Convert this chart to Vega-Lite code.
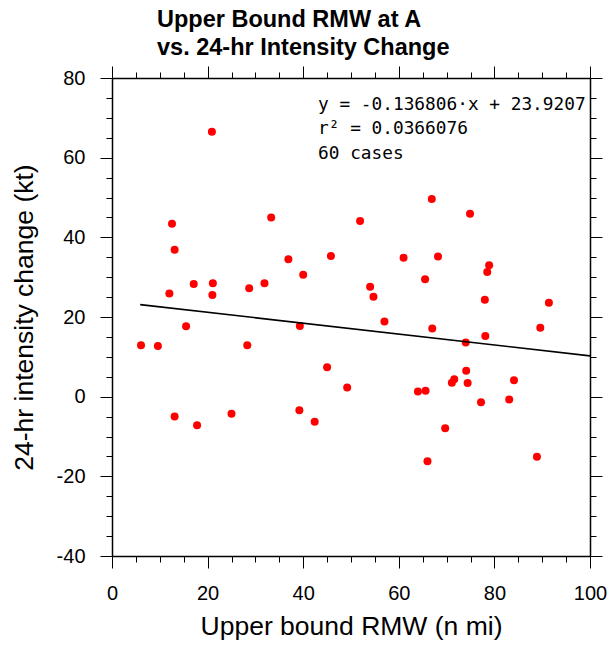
{
  "$schema": "https://vega.github.io/schema/vega-lite/v6.json",
  "width": 478,
  "height": 478,
  "autosize": "none",
  "padding": {"left": 112, "top": 78, "right": 19, "bottom": 89},
  "background": "white",
  "config": {
    "view": {"stroke": null},
    "font": "Liberation Sans",
    "axis": {
      "grid": false,
      "domainColor": "black",
      "domainWidth": 1.5,
      "tickColor": "black",
      "tickWidth": 1,
      "labelColor": "black",
      "titleColor": "black",
      "labelFont": "Liberation Sans",
      "titleFont": "Liberation Sans",
      "titleFontWeight": "normal",
      "labelFontSize": 20,
      "titleFontSize": 26.5
    }
  },
  "title": {
    "text": ["Upper Bound RMW at A", "vs. 24-hr Intensity Change"],
    "anchor": "start",
    "frame": "group",
    "dx": 45,
    "offset": 6,
    "font": "Liberation Sans",
    "fontSize": 23.5,
    "fontWeight": "bold",
    "lineHeight": 28,
    "color": "black"
  },
  "datasets": {
    "cases": [
      {"rmw": 20.9, "dv": 66.5}, {"rmw": 12.55, "dv": 43.4}, {"rmw": 13.1, "dv": 36.9},
      {"rmw": 33.3, "dv": 45.0}, {"rmw": 51.9, "dv": 44.1}, {"rmw": 36.9, "dv": 34.5},
      {"rmw": 45.8, "dv": 35.3}, {"rmw": 66.9, "dv": 49.6}, {"rmw": 74.9, "dv": 45.9},
      {"rmw": 61.0, "dv": 34.9}, {"rmw": 68.2, "dv": 35.2}, {"rmw": 40.0, "dv": 30.6},
      {"rmw": 12.0, "dv": 25.9}, {"rmw": 17.1, "dv": 28.3}, {"rmw": 21.1, "dv": 28.5},
      {"rmw": 21.0, "dv": 25.5}, {"rmw": 28.7, "dv": 27.2}, {"rmw": 31.9, "dv": 28.5},
      {"rmw": 15.5, "dv": 17.7}, {"rmw": 39.3, "dv": 17.75}, {"rmw": 6.07, "dv": 12.9},
      {"rmw": 9.6, "dv": 12.7}, {"rmw": 28.3, "dv": 12.9}, {"rmw": 45.0, "dv": 7.4},
      {"rmw": 49.2, "dv": 2.3}, {"rmw": 13.1, "dv": -5.0}, {"rmw": 17.8, "dv": -7.2},
      {"rmw": 25.0, "dv": -4.3}, {"rmw": 39.2, "dv": -3.4}, {"rmw": 42.4, "dv": -6.3},
      {"rmw": 78.9, "dv": 33.0}, {"rmw": 78.5, "dv": 31.3}, {"rmw": 54.0, "dv": 27.6},
      {"rmw": 54.7, "dv": 25.1}, {"rmw": 65.5, "dv": 29.5}, {"rmw": 78.0, "dv": 24.3},
      {"rmw": 91.4, "dv": 23.6}, {"rmw": 57.0, "dv": 18.9}, {"rmw": 67.0, "dv": 17.1},
      {"rmw": 89.6, "dv": 17.3}, {"rmw": 78.1, "dv": 15.2}, {"rmw": 74.0, "dv": 13.6},
      {"rmw": 74.1, "dv": 6.5}, {"rmw": 71.6, "dv": 4.4}, {"rmw": 71.1, "dv": 3.5},
      {"rmw": 74.4, "dv": 3.4}, {"rmw": 84.1, "dv": 4.1}, {"rmw": 64.0, "dv": 1.3},
      {"rmw": 65.6, "dv": 1.5}, {"rmw": 77.2, "dv": -1.4}, {"rmw": 83.1, "dv": -0.7},
      {"rmw": 69.7, "dv": -7.9}, {"rmw": 66.0, "dv": -16.2}, {"rmw": 88.9, "dv": -15.1}
    ],
    "fit": [
      {"rmw": 5.9, "dv": 23.11},
      {"rmw": 100, "dv": 10.24}
    ],
    "note": [
      {"line1": "y = -0.136806·x + 23.9207", "line2": "r² = 0.0366076", "line3": "60 cases"}
    ]
  },
  "layer": [
    {
      "data": {"name": "cases"},
      "mark": {"type": "circle", "size": 64, "color": "#ff0000", "opacity": 1},
      "encoding": {
        "x": {
          "field": "rmw", "type": "quantitative",
          "scale": {"domain": [0, 100], "nice": false, "zero": false},
          "axis": {"orient": "bottom", "values": [0, 20, 40, 60, 80, 100], "tickSize": 12, "labelPadding": 15,
                   "labelExpr": "'' + datum.value",
                   "title": "Upper bound RMW (n mi)", "titlePadding": 10, "domain": true, "labelFlush": false, "labelOverlap": false}
        },
        "y": {
          "field": "dv", "type": "quantitative",
          "scale": {"domain": [-40, 80], "nice": false, "zero": false},
          "axis": {"orient": "left", "values": [-40, -20, 0, 20, 40, 60, 80], "tickSize": 12, "labelPadding": 15,
                   "labelExpr": "'' + datum.value",
                   "title": "24-hr intensity change (kt)", "titlePadding": 18, "domain": true, "labelOverlap": false}
        }
      }
    },
    {
      "mark": {"type": "rule", "color": "black", "strokeWidth": 1},
      "encoding": {
        "x": {"datum": 0, "type": "quantitative",
              "axis": {"orient": "bottom", "values": [0,5,10,15,20,25,30,35,40,45,50,55,60,65,70,75,80,85,90,95,100],
                       "tickSize": 6, "labels": false, "title": null, "domain": false}},
        "x2": {"datum": 100},
        "y": {"datum": 0, "type": "quantitative",
              "axis": {"orient": "left", "values": [-40,-35,-30,-25,-20,-15,-10,-5,0,5,10,15,20,25,30,35,40,45,50,55,60,65,70,75,80],
                       "tickSize": 6, "labels": false, "title": null, "domain": false}}
      }
    },
    {
      "data": {"name": "fit"},
      "mark": {"type": "line", "color": "black", "strokeWidth": 1.6},
      "encoding": {
        "x": {"field": "rmw", "type": "quantitative",
              "axis": {"orient": "top", "values": [0, 20, 40, 60, 80, 100], "tickSize": 12, "labels": false, "title": null, "domain": true}},
        "y": {"field": "dv", "type": "quantitative",
              "axis": {"orient": "right", "values": [-40, -20, 0, 20, 40, 60, 80], "tickSize": 12, "labels": false, "title": null, "domain": true}}
      }
    },
    {
      "data": {"name": "note"},
      "transform": [{"fold": ["line1", "line2", "line3"], "as": ["line", "label"]}],
      "mark": {"type": "text", "align": "left", "baseline": "alphabetic", "font": "DejaVu Sans Mono", "fontSize": 17.8, "color": "black"},
      "encoding": {
        "text": {"field": "label", "type": "nominal"},
        "x": {"datum": 43.1, "type": "quantitative",
              "axis": {"orient": "top", "values": [0,5,10,15,20,25,30,35,40,45,50,55,60,65,70,75,80,85,90,95,100],
                       "tickSize": 6, "labels": false, "title": null, "domain": false}},
        "y": {"datum": 72, "type": "quantitative",
              "axis": {"orient": "right", "values": [-40,-35,-30,-25,-20,-15,-10,-5,0,5,10,15,20,25,30,35,40,45,50,55,60,65,70,75,80],
                       "tickSize": 6, "labels": false, "title": null, "domain": false}},
        "yOffset": {"field": "line", "type": "ordinal", "scale": {"type": "point", "range": [0, 49], "padding": 0}}
      }
    }
  ],
  "resolve": {"axis": {"x": "independent", "y": "independent"}}
}
